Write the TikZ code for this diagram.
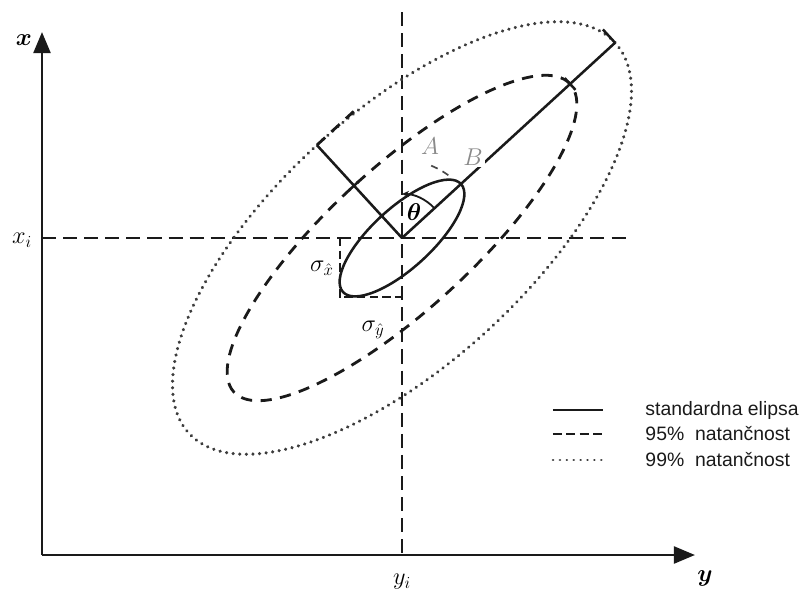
\documentclass[tikz,border=0pt]{standalone}
\usepackage{amsmath,amssymb}
\usepackage{fontspec}
\newfontfamily\legendfont{Liberation Sans}
\usepackage{tikz}
\usetikzlibrary{arrows.meta, positioning, calc}
\definecolor{inkblack}{HTML}{1A1A1A}
\definecolor{labelgray}{HTML}{8A8A8A}
\tikzset{
    axisline/.style={line width=2pt, draw=inkblack, -{Triangle[length=15pt, width=12pt]}},
    guide/.style={line width=1.7pt, draw=inkblack, dash pattern=on 10pt off 5pt},
    stdline/.style={line width=1.8pt, draw=inkblack},
    conf95/.style={line width=2pt, draw=inkblack, dash pattern=on 8pt off 6pt},
    conf99/.style={line width=2.4pt, draw=inkblack!85, dash pattern=on 0.1pt off 4.6pt, line cap=round},
    sigbox/.style={line width=1.4pt, draw=inkblack, dash pattern=on 6pt off 3pt},
    thetaarc/.style={line width=1.3pt, draw=inkblack, -{Stealth[length=5pt, width=4.5pt]}},
    abarc/.style={line width=1.2pt, draw=inkblack!80, dash pattern=on 5pt off 4pt},
    mathlabel/.style={inner sep=1pt, font=\fontsize{18.5}{20}\selectfont},
    ptlabel/.style={inner sep=1.5pt, fill=white, text=labelgray, font=\fontsize{17}{19}\selectfont},
    legtext/.style={inner sep=0pt, text=inkblack, font=\legendfont\fontsize{13.8}{16}\selectfont}
}
\begin{document}
\begin{tikzpicture}[x=0.025cm, y=0.025cm]
    \useasboundingbox (-402,-357) rectangle (402,238);
    \coordinate (O) at (0,0);
    \coordinate (orig) at (-360,-317);
    \coordinate (xtop) at (-360,206);
    \coordinate (yend) at (293,-317);
    % guide lines through the mean
    \draw[guide] (-360,0) -- (230,0);
    \draw[guide] (0,226) -- (0,-317);
    % axes
    \draw[axisline] (orig) -- (xtop);
    \draw[axisline] (orig) -- (yend);
    \node[mathlabel] (xlab) at (-378,198) {$\boldsymbol{x}$};
    \node[mathlabel] (ylab) at (303,-340) {$\boldsymbol{y}$};
    \node[mathlabel] (xi) at (-380,-2) {$x_i$};
    \node[mathlabel] (yi) at (0,-344) {$y_i$};
    % error ellipses
    \draw[conf99, rotate=42.5] (O) ellipse [x radius=289, y radius=126];
    \draw[conf95, rotate=42.5] (O) ellipse [x radius=228, y radius=71];
    \draw[stdline, rotate=42.5] (O) ellipse [x radius=80, y radius=30];
    % semi-axes
    \draw[stdline] (O) -- (42.5:289) coordinate (a99);
    \draw[stdline] (O) -- (132.5:126) coordinate (b99);
    \draw[stdline] ($(42.5:228)+(132.5:8)$) -- ($(42.5:228)+(-47.5:8)$);
    \draw[stdline] ($(132.5:71)+(42.5:6)$) -- ($(132.5:71)+(-137.5:6)$);
    \draw[stdline] (a99) -- ++(132.5:18);
    \draw[conf95] (b99) -- ++(42.5:50);
    % sigma box
    \draw[sigbox] (-62,0) -- (-62,-59) -- (0,-59);
    \node[mathlabel] (sx) at (-80,-30) {$\sigma_{\hat{x}}$};
    \node[mathlabel] (sy) at (-29,-92) {$\sigma_{\hat{y}}$};
    % orientation angle
    \draw[thetaarc] (42.5:44) arc[start angle=42.5, end angle=90, radius=44];
    \node[mathlabel] (theta) at (12,26) {$\boldsymbol{\theta}$};
    \draw[abarc] (68:78) arc[start angle=68, end angle=50, radius=78];
    \node[ptlabel] (A) at (28,92) {$A$};
    \node[ptlabel] (B) at (71,81) {$B$};
    % legend
    \coordinate (l1a) at (151,-172);
    \coordinate (l1b) at (201,-172);
    \coordinate (l2a) at (151,-196);
    \coordinate (l2b) at (201,-196);
    \coordinate (l3a) at (151,-222);
    \coordinate (l3b) at (201,-222);
    \draw[stdline] (l1a) -- (l1b);
    \draw[conf95, dash pattern=on 6.5pt off 3pt] (l2a) -- (l2b);
    \draw[conf99, line width=1.8pt, dash pattern=on 0.1pt off 4.8pt] (l3a) -- (l3b);
    \node[legtext, right=30pt of l1b] (leg1) {standardna elipsa};
    \node[legtext, right=30pt of l2b] (leg2) {95\%\ \ natančnost};
    \node[legtext, right=30pt of l3b] (leg3) {99\%\ \ natančnost};
\end{tikzpicture}
\end{document}
